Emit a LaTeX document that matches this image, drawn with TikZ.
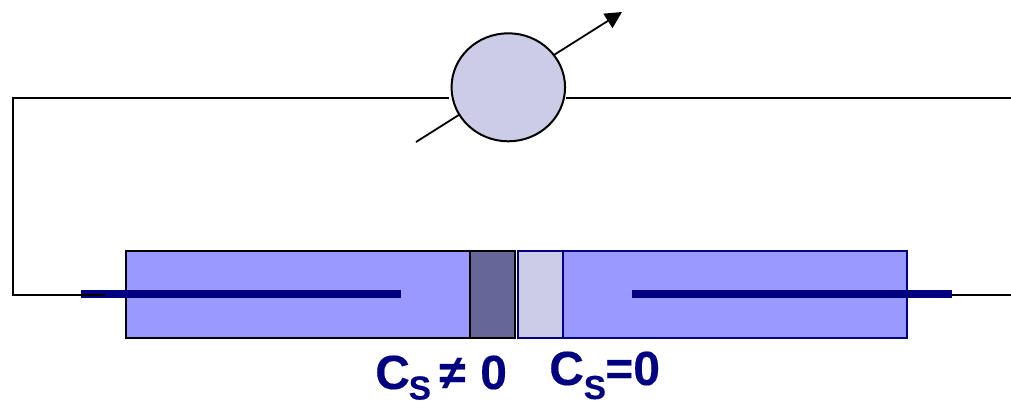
\documentclass[tikz,border=0pt]{standalone}
\usepackage{fontspec}
\setmainfont[BoldFeatures={FakeBold=0.25}]{Liberation Sans}
\usetikzlibrary{shapes.geometric,arrows.meta}
\definecolor{navy}{HTML}{000080}
\definecolor{cellblue}{HTML}{9999FF}
\definecolor{paleblue}{HTML}{CCCCE6}
\definecolor{slate}{HTML}{666699}
\tikzset{
  wire/.style={draw=black,line width=1.35pt},
  cellblack/.style={draw=black,line width=1.5pt},
  cellnavy/.style={draw=navy,line width=1.5pt},
  electrode/.style={draw=navy,line width=6pt},
  lab/.style={text=navy,font=\fontsize{36}{36}\selectfont\bfseries,inner sep=0pt,anchor=base west},
  sub/.style={text=navy,font=\fontsize{25}{25}\selectfont\bfseries,inner sep=0pt,anchor=base west}
}
\begin{document}
\begin{tikzpicture}[x=0.75pt,y=-0.75pt]
\useasboundingbox (0,0) rectangle (1011,401);
% cell body
\path[fill=cellblue,cellblack] (126,250.5) rectangle (470,337.5);
\path[fill=slate,cellblack] (470,250.5) rectangle (515.3,337.5);
\path[fill=paleblue,cellnavy] (518,250.5) rectangle (563,337.5);
\path[fill=cellblue,cellnavy] (563,250.5) rectangle (907,337.5);
% electrodes
\coordinate (eLa) at (81,294);
\coordinate (eLb) at (401,294);
\coordinate (eRa) at (632,294);
\coordinate (eRb) at (952,294);
\draw[electrode] (eLa) -- (eLb);
\draw[electrode] (eRa) -- (eRb);
% circuit
\coordinate (wTL) at (13,98);
\coordinate (wBL) at (13,295);
\coordinate (wBLe) at (105,295);
\coordinate (wTR) at (1011,98);
\coordinate (wBRs) at (952,295);
\coordinate (wBR) at (1011,295);
\coordinate (mL) at (449,98);
\coordinate (mR) at (566,98);
\coordinate (aS) at (416,142);
\coordinate (aE) at (622,12);
\draw[wire] (wBLe) -- (wBL) -- (wTL) -- (mL);
\draw[wire] (mR) -- (wTR);
\draw[wire] (wBRs) -- (wBR);
\draw[wire,-{Triangle[length=12.5pt,width=12.5pt]}] (aS) -- (aE);
\node[ellipse,draw=black,line width=1.5pt,fill=paleblue,minimum width=113.5*0.75pt,minimum height=108*0.75pt,inner sep=0pt,outer sep=0pt] (meter) at (508.3,87.3) {};
% labels
\node[lab] (c1) at (375,389) {C};
\node[sub] (s1) at (408.5,399.5) {S};
\node[lab] (n1) at (439,389) {≠};
\node[lab] (z1) at (480,389) {0};
\node[lab] (c2) at (549,385) {C};
\node[sub] (s2) at (583.5,399) {S};
\node[lab] (e2) at (605,385) {=0};
\end{tikzpicture}
\end{document}
